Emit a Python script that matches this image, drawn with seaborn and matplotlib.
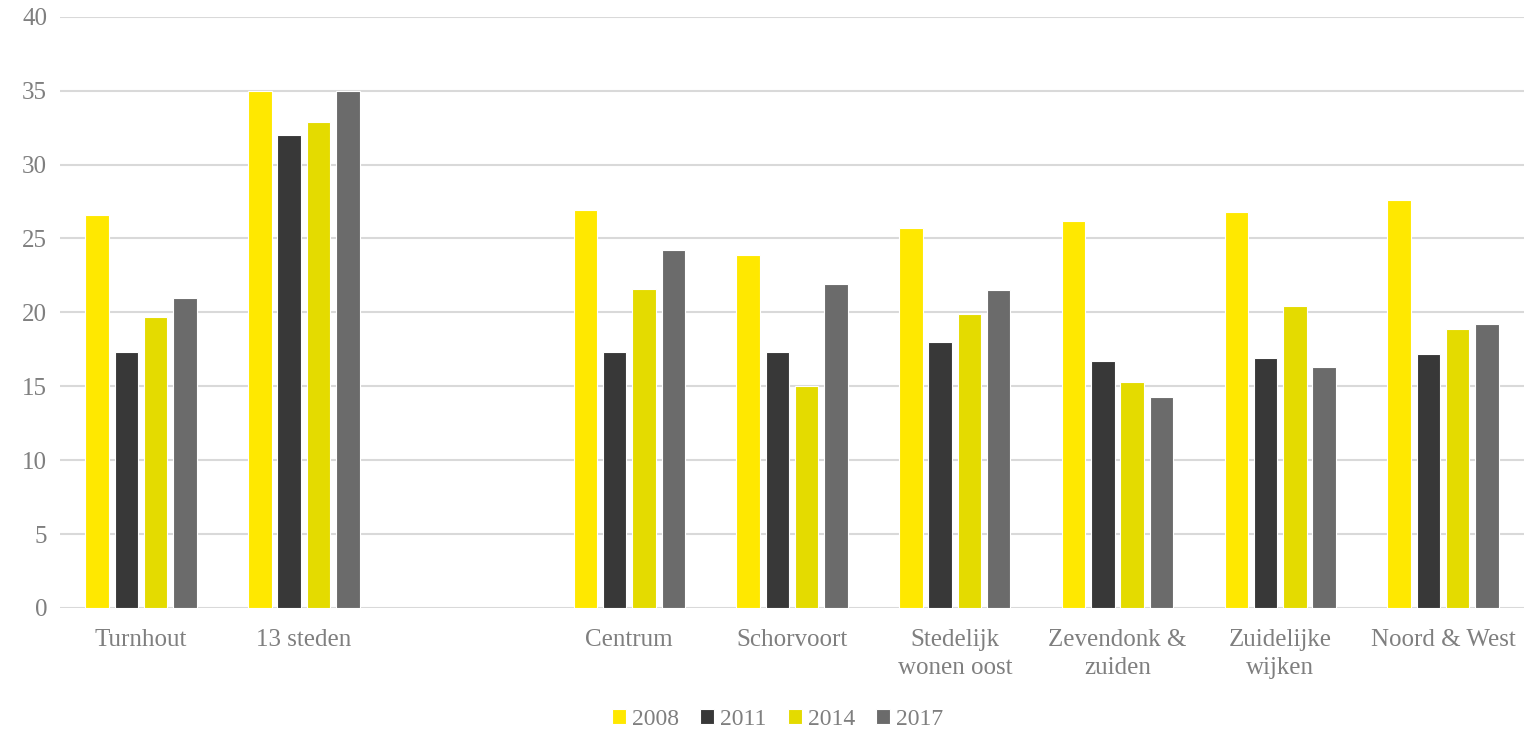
import matplotlib
matplotlib.use('Agg')
import matplotlib.pyplot as plt
import seaborn as sns
import pandas as pd

# data
gebieden = ['Turnhout', '13 steden', ' ', 'Centrum', 'Schorvoort',
            'Stedelijk\nwonen oost', 'Zevendonk &\nzuiden', 'Zuidelijke\nwijken',
            'Noord & West']
jaren = ['2008', '2011', '2014', '2017']
v2008 = [26.6, 35.0, None, 26.9, 23.9, 25.7, 26.2, 26.8, 27.6]
v2011 = [17.3, 32.0, None, 17.3, 17.3, 18.0, 16.7, 16.9, 17.2]
v2014 = [19.7, 32.9, None, 21.6, 15.0, 19.9, 15.3, 20.4, 18.9]
v2017 = [21.0, 35.0, None, 24.2, 21.9, 21.5, 14.3, 16.3, 19.2]
kleuren = ['#FFE800', '#383838', '#E4DB00', '#6B6B6B']

rows = []
for jaar, waarden in zip(jaren, [v2008, v2011, v2014, v2017]):
    for g, v in zip(gebieden, waarden):
        if v is not None:
            rows.append({'gebied': g, 'jaar': jaar, 'waarde': v})
df = pd.DataFrame(rows)

sns.set_style('white')
plt.rcParams['font.family'] = ['Liberation Serif', 'DejaVu Serif']
tekstkleur = '#7F7F7F'

fig = plt.figure(figsize=(15.32, 7.29), dpi=100)
ax = fig.add_axes([0.039, 0.166, 0.956, 0.811])

sns.barplot(data=df, x='gebied', y='waarde', hue='jaar', order=gebieden,
            hue_order=jaren, palette=kleuren, saturation=1, width=0.72, gap=0.2,
            edgecolor='white', linewidth=0.8, ax=ax, zorder=3)

ax.set_ylim(0, 40)
ax.set_yticks(range(0, 41, 5))
ax.set_xlim(-0.5, len(gebieden) - 0.5)
ax.yaxis.grid(True, color='#D9D9D9', linewidth=1.5, zorder=0)
ax.set_axisbelow(True)
sns.despine(ax=ax, left=True, bottom=True, top=True, right=True)
ax.set_xlabel('')
ax.set_ylabel('')
ax.tick_params(axis='both', length=0, colors=tekstkleur, labelsize=18)
ax.tick_params(axis='y', pad=9)
ax.tick_params(axis='x', pad=15)
for lbl in ax.get_xticklabels():
    lbl.set_linespacing(1.35)

leg = ax.legend(loc='center', bbox_to_anchor=(0.49, -0.188), ncol=4,
                frameon=False, fontsize=17, handlelength=0.6, handleheight=0.6,
                handletextpad=0.25, columnspacing=0.9, borderpad=0.2)
for t in leg.get_texts():
    t.set_color(tekstkleur)

fig.savefig('out.png', dpi=100)
